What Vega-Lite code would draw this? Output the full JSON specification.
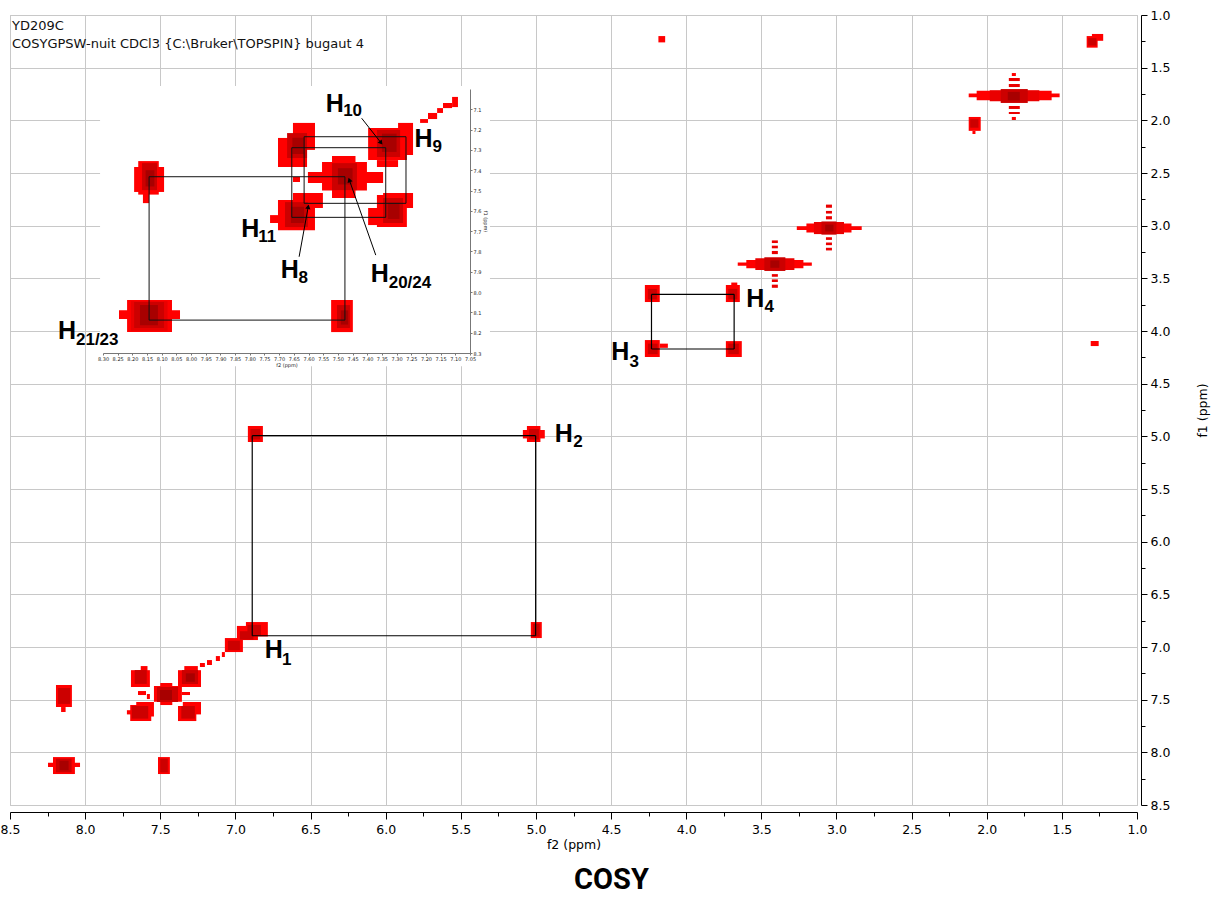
{
  "$schema": "https://vega.github.io/schema/vega-lite/v6.json",
  "width": 1127,
  "height": 790,
  "autosize": {"type": "none"},
  "padding": {"left": 10, "top": 15, "right": 78, "bottom": 92},
  "background": "white",
  "config": {
    "view": {"stroke": "#c0c0c0", "strokeWidth": 1},
    "text": {"font": "Liberation Sans"}
  },
  "title": {"text": "COSY", "orient": "bottom", "anchor": "middle", "frame": "group", "font": "Roboto", "fontSize": 29, "fontWeight": "bold", "color": "#000", "offset": 15, "dx": 38},
  "datasets": {
    "main_peaks": [
      {"f2":1.335,"f2b":1.262,"f1":1.2,"f1b":1.31,"lvl":1},
      {"f2":1.3,"f2b":1.225,"f1":1.18,"f1b":1.245,"lvl":1},
      {"f2":1.325,"f2b":1.27,"f1":1.22,"f1b":1.29,"lvl":3},
      {"f2":4.185,"f2b":4.14,"f1":1.2,"f1b":1.26,"lvl":1},
      {"f2":2.12,"f2b":1.515,"f1":1.745,"f1b":1.78,"lvl":1},
      {"f2":2.067,"f2b":1.568,"f1":1.72,"f1b":1.81,"lvl":1},
      {"f2":1.98,"f2b":1.65,"f1":1.715,"f1b":1.82,"lvl":2},
      {"f2":1.907,"f2b":1.727,"f1":1.703,"f1b":1.835,"lvl":3},
      {"f2":1.86,"f2b":1.78,"f1":1.73,"f1b":1.81,"lvl":4},
      {"f2":1.853,"f2b":1.78,"f1":1.598,"f1b":1.627,"lvl":2},
      {"f2":1.853,"f2b":1.78,"f1":1.655,"f1b":1.684,"lvl":2},
      {"f2":1.853,"f2b":1.78,"f1":1.864,"f1b":1.892,"lvl":2},
      {"f2":1.853,"f2b":1.78,"f1":1.921,"f1b":1.94,"lvl":2},
      {"f2":1.833,"f2b":1.806,"f1":1.551,"f1b":1.579,"lvl":1},
      {"f2":1.833,"f2b":1.806,"f1":1.968,"f1b":1.997,"lvl":1},
      {"f2":2.12,"f2b":2.04,"f1":1.968,"f1b":2.1,"lvl":1},
      {"f2":2.095,"f2b":2.075,"f1":2.1,"f1b":2.13,"lvl":1},
      {"f2":2.11,"f2b":2.055,"f1":1.99,"f1b":2.07,"lvl":3},
      {"f2":1.308,"f2b":1.255,"f1":4.095,"f1b":4.143,"lvl":1},
      {"f2":3.264,"f2b":2.832,"f1":3.005,"f1b":3.04,"lvl":1},
      {"f2":3.2,"f2b":2.9,"f1":2.98,"f1b":3.065,"lvl":1},
      {"f2":3.15,"f2b":2.95,"f1":2.965,"f1b":3.08,"lvl":2},
      {"f2":3.1,"f2b":3.0,"f1":2.96,"f1b":3.085,"lvl":3},
      {"f2":3.075,"f2b":3.02,"f1":2.99,"f1b":3.055,"lvl":4},
      {"f2":3.07,"f2b":3.03,"f1":2.8,"f1b":2.83,"lvl":2},
      {"f2":3.07,"f2b":3.03,"f1":2.86,"f1b":2.885,"lvl":2},
      {"f2":3.07,"f2b":3.03,"f1":2.91,"f1b":2.94,"lvl":2},
      {"f2":3.07,"f2b":3.03,"f1":3.11,"f1b":3.135,"lvl":2},
      {"f2":3.07,"f2b":3.03,"f1":3.16,"f1b":3.185,"lvl":2},
      {"f2":3.07,"f2b":3.03,"f1":3.21,"f1b":3.235,"lvl":2},
      {"f2":3.657,"f2b":3.164,"f1":3.35,"f1b":3.38,"lvl":1},
      {"f2":3.6,"f2b":3.22,"f1":3.325,"f1b":3.405,"lvl":1},
      {"f2":3.54,"f2b":3.28,"f1":3.31,"f1b":3.42,"lvl":2},
      {"f2":3.48,"f2b":3.34,"f1":3.3,"f1b":3.43,"lvl":3},
      {"f2":3.44,"f2b":3.38,"f1":3.33,"f1b":3.4,"lvl":4},
      {"f2":3.43,"f2b":3.39,"f1":3.14,"f1b":3.165,"lvl":2},
      {"f2":3.43,"f2b":3.39,"f1":3.19,"f1b":3.215,"lvl":2},
      {"f2":3.43,"f2b":3.39,"f1":3.24,"f1b":3.27,"lvl":2},
      {"f2":3.43,"f2b":3.39,"f1":3.46,"f1b":3.485,"lvl":2},
      {"f2":3.43,"f2b":3.39,"f1":3.51,"f1b":3.535,"lvl":2},
      {"f2":3.43,"f2b":3.39,"f1":3.56,"f1b":3.59,"lvl":2},
      {"f2":4.275,"f2b":4.176,"f1":3.563,"f1b":3.725,"lvl":1},
      {"f2":4.255,"f2b":4.195,"f1":3.6,"f1b":3.7,"lvl":3},
      {"f2":3.736,"f2b":3.643,"f1":3.563,"f1b":3.725,"lvl":1},
      {"f2":3.7,"f2b":3.66,"f1":3.54,"f1b":3.57,"lvl":1},
      {"f2":3.72,"f2b":3.66,"f1":3.6,"f1b":3.7,"lvl":3},
      {"f2":4.275,"f2b":4.176,"f1":4.086,"f1b":4.247,"lvl":1},
      {"f2":4.176,"f2b":4.122,"f1":4.12,"f1b":4.16,"lvl":1},
      {"f2":4.255,"f2b":4.19,"f1":4.12,"f1b":4.22,"lvl":3},
      {"f2":3.736,"f2b":3.63,"f1":4.096,"f1b":4.247,"lvl":1},
      {"f2":3.72,"f2b":3.65,"f1":4.12,"f1b":4.22,"lvl":3},
      {"f2":6.917,"f2b":6.817,"f1":4.902,"f1b":5.054,"lvl":1},
      {"f2":6.9,"f2b":6.835,"f1":4.93,"f1b":5.03,"lvl":3},
      {"f2":5.087,"f2b":4.941,"f1":4.94,"f1b":5.02,"lvl":1},
      {"f2":5.06,"f2b":4.97,"f1":4.902,"f1b":5.054,"lvl":1},
      {"f2":5.045,"f2b":4.98,"f1":4.93,"f1b":5.03,"lvl":3},
      {"f2":5.034,"f2b":4.961,"f1":6.763,"f1b":6.915,"lvl":1},
      {"f2":5.02,"f2b":4.975,"f1":6.78,"f1b":6.9,"lvl":3},
      {"f2":6.93,"f2b":6.784,"f1":6.763,"f1b":6.9,"lvl":1},
      {"f2":6.99,"f2b":6.85,"f1":6.8,"f1b":6.934,"lvl":1},
      {"f2":7.07,"f2b":6.95,"f1":6.915,"f1b":7.048,"lvl":1},
      {"f2":6.92,"f2b":6.83,"f1":6.79,"f1b":6.89,"lvl":3},
      {"f2":6.97,"f2b":6.88,"f1":6.85,"f1b":6.93,"lvl":3},
      {"f2":7.05,"f2b":6.97,"f1":6.94,"f1b":7.03,"lvl":3},
      {"f2":7.09,"f2b":7.07,"f1":7.048,"f1b":7.095,"lvl":1},
      {"f2":7.13,"f2b":7.103,"f1":7.086,"f1b":7.133,"lvl":1},
      {"f2":7.189,"f2b":7.156,"f1":7.124,"f1b":7.171,"lvl":1},
      {"f2":7.236,"f2b":7.203,"f1":7.152,"f1b":7.19,"lvl":1},
      {"f2":7.382,"f2b":7.229,"f1":7.22,"f1b":7.38,"lvl":1},
      {"f2":7.34,"f2b":7.25,"f1":7.181,"f1b":7.23,"lvl":1},
      {"f2":7.356,"f2b":7.249,"f1":7.219,"f1b":7.351,"lvl":3},
      {"f2":7.33,"f2b":7.27,"f1":7.25,"f1b":7.33,"lvl":4},
      {"f2":7.695,"f2b":7.569,"f1":7.22,"f1b":7.38,"lvl":1},
      {"f2":7.63,"f2b":7.585,"f1":7.181,"f1b":7.23,"lvl":1},
      {"f2":7.67,"f2b":7.59,"f1":7.219,"f1b":7.35,"lvl":3},
      {"f2":7.542,"f2b":7.356,"f1":7.37,"f1b":7.52,"lvl":1},
      {"f2":7.5,"f2b":7.42,"f1":7.342,"f1b":7.551,"lvl":1},
      {"f2":7.522,"f2b":7.382,"f1":7.38,"f1b":7.522,"lvl":3},
      {"f2":7.502,"f2b":7.422,"f1":7.408,"f1b":7.503,"lvl":4},
      {"f2":7.648,"f2b":7.595,"f1":7.418,"f1b":7.456,"lvl":1},
      {"f2":7.589,"f2b":7.569,"f1":7.446,"f1b":7.494,"lvl":1},
      {"f2":7.356,"f2b":7.302,"f1":7.427,"f1b":7.456,"lvl":1},
      {"f2":7.7,"f2b":7.56,"f1":7.55,"f1b":7.703,"lvl":1},
      {"f2":7.66,"f2b":7.542,"f1":7.522,"f1b":7.66,"lvl":1},
      {"f2":7.722,"f2b":7.69,"f1":7.6,"f1b":7.64,"lvl":1},
      {"f2":7.69,"f2b":7.58,"f1":7.56,"f1b":7.68,"lvl":3},
      {"f2":7.382,"f2b":7.26,"f1":7.56,"f1b":7.703,"lvl":1},
      {"f2":7.35,"f2b":7.229,"f1":7.522,"f1b":7.64,"lvl":1},
      {"f2":7.36,"f2b":7.27,"f1":7.56,"f1b":7.68,"lvl":3},
      {"f2":8.194,"f2b":8.088,"f1":7.361,"f1b":7.57,"lvl":1},
      {"f2":8.16,"f2b":8.13,"f1":7.57,"f1b":7.617,"lvl":1},
      {"f2":8.18,"f2b":8.1,"f1":7.39,"f1b":7.54,"lvl":3},
      {"f2":8.247,"f2b":8.034,"f1":8.1,"f1b":8.14,"lvl":1},
      {"f2":8.214,"f2b":8.068,"f1":8.045,"f1b":8.206,"lvl":1},
      {"f2":8.194,"f2b":8.09,"f1":8.06,"f1b":8.19,"lvl":3},
      {"f2":8.17,"f2b":8.11,"f1":8.08,"f1b":8.17,"lvl":4},
      {"f2":7.515,"f2b":7.436,"f1":8.045,"f1b":8.206,"lvl":1},
      {"f2":7.5,"f2b":7.45,"f1":8.06,"f1b":8.19,"lvl":3}
    ],
    "main_lines": [
      {"f2":6.888,"f1":4.994,"f2b":5.002,"f1b":4.994},
      {"f2":5.002,"f1":4.994,"f2b":5.002,"f1b":6.893},
      {"f2":5.002,"f1":6.893,"f2b":6.888,"f1b":6.893},
      {"f2":6.888,"f1":6.893,"f2b":6.888,"f1b":4.994},
      {"f2":4.231,"f1":3.652,"f2b":3.681,"f1b":3.652},
      {"f2":3.681,"f1":3.652,"f2b":3.681,"f1b":4.171},
      {"f2":3.681,"f1":4.171,"f2b":4.231,"f1b":4.171},
      {"f2":4.231,"f1":4.171,"f2b":4.231,"f1b":3.652}
    ],
    "main_labels": [
      {"f2":4.874,"f1":5.051,"txt":"H","kind":"H"},
      {"f2":4.752,"f1":5.101,"txt":"2","kind":"sub"},
      {"f2":6.805,"f1":7.105,"txt":"H","kind":"H"},
      {"f2":6.69,"f1":7.171,"txt":"1","kind":"sub"},
      {"f2":3.601,"f1":3.769,"txt":"H","kind":"H"},
      {"f2":3.479,"f1":3.817,"txt":"4","kind":"sub"},
      {"f2":4.499,"f1":4.275,"txt":"H","kind":"H"},
      {"f2":4.377,"f1":4.339,"txt":"3","kind":"sub"}
    ],
    "header": [
      {"f2":8.487,"f1":1.142,"txt":"YD209C"},
      {"f2":8.487,"f1":1.313,"txt":"COSYGPSW-nuit CDCl3 {C:\\Bruker\\TOPSPIN} bugaut 4"}
    ],
    "inset_bg": [
      {"f2":8.31,"f2b":6.982,"f1":6.985,"f1b":8.365}
    ],
    "inset_gridx": [
      {"f2":8.3},{"f2":8.25},{"f2":8.2},{"f2":8.15},{"f2":8.1},{"f2":8.05},{"f2":8.0},{"f2":7.95},{"f2":7.9},{"f2":7.85},{"f2":7.8},{"f2":7.75},{"f2":7.7},{"f2":7.65},{"f2":7.6},{"f2":7.55},{"f2":7.5},{"f2":7.45},{"f2":7.4},{"f2":7.35},{"f2":7.3},{"f2":7.25},{"f2":7.2},{"f2":7.15},{"f2":7.1},{"f2":7.05}
    ],
    "inset_gridy": [
      {"f1":7.0},{"f1":7.1},{"f1":7.2},{"f1":7.3},{"f1":7.4},{"f1":7.5},{"f1":7.6},{"f1":7.7},{"f1":7.8},{"f1":7.9},{"f1":8.0},{"f1":8.1},{"f1":8.2},{"f1":8.3}
    ],
    "inset_peaks": [
      {"f2":8.2455,"f2b":8.0377,"f1":8.089,"f1b":8.133,"lvl":1},
      {"f2":8.218,"f2b":8.065,"f1":8.039,"f1b":8.197,"lvl":1},
      {"f2":8.205,"f2b":8.08,"f1":8.045,"f1b":8.19,"lvl":2},
      {"f2":8.194,"f2b":8.092,"f1":8.049,"f1b":8.177,"lvl":3},
      {"f2":8.174,"f2b":8.113,"f1":8.064,"f1b":8.163,"lvl":4},
      {"f2":7.523,"f2b":7.449,"f1":8.039,"f1b":8.197,"lvl":1},
      {"f2":7.503,"f2b":7.459,"f1":8.064,"f1b":8.177,"lvl":3},
      {"f2":7.49,"f2b":7.465,"f1":8.09,"f1b":8.16,"lvl":4},
      {"f2":8.194,"f2b":8.092,"f1":7.384,"f1b":7.507,"lvl":1},
      {"f2":8.18,"f2b":8.11,"f1":7.355,"f1b":7.52,"lvl":1},
      {"f2":8.164,"f2b":8.143,"f1":7.512,"f1b":7.562,"lvl":1},
      {"f2":8.167,"f2b":8.116,"f1":7.365,"f1b":7.498,"lvl":3},
      {"f2":8.155,"f2b":8.125,"f1":7.4,"f1b":7.48,"lvl":4},
      {"f2":7.602,"f2b":7.346,"f1":7.409,"f1b":7.463,"lvl":1},
      {"f2":7.554,"f2b":7.401,"f1":7.36,"f1b":7.5,"lvl":1},
      {"f2":7.52,"f2b":7.44,"f1":7.33,"f1b":7.537,"lvl":1},
      {"f2":7.653,"f2b":7.629,"f1":7.433,"f1b":7.458,"lvl":1},
      {"f2":7.52,"f2b":7.435,"f1":7.365,"f1b":7.498,"lvl":3},
      {"f2":7.5,"f2b":7.45,"f1":7.39,"f1b":7.47,"lvl":4},
      {"f2":7.704,"f2b":7.578,"f1":7.547,"f1b":7.695,"lvl":1},
      {"f2":7.653,"f2b":7.551,"f1":7.512,"f1b":7.586,"lvl":1},
      {"f2":7.731,"f2b":7.704,"f1":7.621,"f1b":7.66,"lvl":1},
      {"f2":7.68,"f2b":7.602,"f1":7.557,"f1b":7.68,"lvl":3},
      {"f2":7.66,"f2b":7.615,"f1":7.58,"f1b":7.66,"lvl":4},
      {"f2":7.653,"f2b":7.578,"f1":7.167,"f1b":7.3,"lvl":1},
      {"f2":7.704,"f2b":7.605,"f1":7.241,"f1b":7.384,"lvl":1},
      {"f2":7.673,"f2b":7.605,"f1":7.217,"f1b":7.34,"lvl":3},
      {"f2":7.655,"f2b":7.615,"f1":7.24,"f1b":7.32,"lvl":4},
      {"f2":7.397,"f2b":7.265,"f1":7.192,"f1b":7.35,"lvl":1},
      {"f2":7.295,"f2b":7.244,"f1":7.167,"f1b":7.325,"lvl":1},
      {"f2":7.367,"f2b":7.295,"f1":7.35,"f1b":7.384,"lvl":1},
      {"f2":7.367,"f2b":7.288,"f1":7.202,"f1b":7.335,"lvl":3},
      {"f2":7.35,"f2b":7.3,"f1":7.22,"f1b":7.31,"lvl":4},
      {"f2":7.367,"f2b":7.265,"f1":7.522,"f1b":7.68,"lvl":1},
      {"f2":7.346,"f2b":7.244,"f1":7.512,"f1b":7.586,"lvl":1},
      {"f2":7.397,"f2b":7.346,"f1":7.586,"f1b":7.67,"lvl":1},
      {"f2":7.346,"f2b":7.278,"f1":7.537,"f1b":7.66,"lvl":3},
      {"f2":7.33,"f2b":7.29,"f1":7.56,"f1b":7.64,"lvl":4},
      {"f2":7.22,"f2b":7.193,"f1":7.148,"f1b":7.167,"lvl":1},
      {"f2":7.193,"f2b":7.162,"f1":7.118,"f1b":7.148,"lvl":1},
      {"f2":7.162,"f2b":7.142,"f1":7.094,"f1b":7.118,"lvl":1},
      {"f2":7.142,"f2b":7.111,"f1":7.069,"f1b":7.094,"lvl":1},
      {"f2":7.111,"f2b":7.091,"f1":7.039,"f1b":7.089,"lvl":1}
    ],
    "inset_lines": [
      {"f2":8.143,"f1":7.432,"f2b":7.476,"f1b":7.432},
      {"f2":7.476,"f1":7.432,"f2b":7.476,"f1b":8.138},
      {"f2":7.476,"f1":8.138,"f2b":8.143,"f1b":8.138},
      {"f2":8.143,"f1":8.138,"f2b":8.143,"f1b":7.432},
      {"f2":7.657,"f1":7.289,"f2b":7.337,"f1b":7.289},
      {"f2":7.337,"f1":7.289,"f2b":7.337,"f1b":7.632},
      {"f2":7.337,"f1":7.632,"f2b":7.657,"f1b":7.632},
      {"f2":7.657,"f1":7.632,"f2b":7.657,"f1b":7.289},
      {"f2":7.615,"f1":7.235,"f2b":7.268,"f1b":7.235},
      {"f2":7.268,"f1":7.235,"f2b":7.268,"f1b":7.563},
      {"f2":7.268,"f1":7.563,"f2b":7.615,"f1b":7.563},
      {"f2":7.615,"f1":7.563,"f2b":7.615,"f1b":7.235}
    ],
    "inset_arrows": [
      {"label":"H10","f2":7.419,"f1":7.144,"f2b":7.353,"f1b":7.265},
      {"label":"H8","f2":7.632,"f1":7.826,"f2b":7.601,"f1b":7.58},
      {"label":"H20/24","f2":7.371,"f1":7.818,"f2b":7.461,"f1b":7.448}
    ],
    "inset_labels": [
      {"f2":7.541,"f1":7.112,"txt":"H","kind":"H"},
      {"f2":7.482,"f1":7.133,"txt":"10","kind":"sub"},
      {"f2":7.239,"f1":7.286,"txt":"H","kind":"H"},
      {"f2":7.178,"f1":7.31,"txt":"9","kind":"sub"},
      {"f2":7.829,"f1":7.728,"txt":"H","kind":"H"},
      {"f2":7.771,"f1":7.752,"txt":"11","kind":"sub"},
      {"f2":7.695,"f1":7.933,"txt":"H","kind":"H"},
      {"f2":7.634,"f1":7.957,"txt":"8","kind":"sub"},
      {"f2":7.388,"f1":7.949,"txt":"H","kind":"H"},
      {"f2":7.327,"f1":7.982,"txt":"20/24","kind":"sub"},
      {"f2":8.453,"f1":8.232,"txt":"H","kind":"H"},
      {"f2":8.392,"f1":8.261,"txt":"21/23","kind":"sub"}
    ]
  },
  "layer": [
    {
      "encoding": {
        "x": {
          "field": "f2", "type": "quantitative",
          "scale": {"domain": [8.5, 1.0], "zero": false, "nice": false},
          "axis": {
            "orient": "bottom", "offset": 7,
            "values": [8.5,8.25,8,7.75,7.5,7.25,7,6.75,6.5,6.25,6,5.75,5.5,5.25,5,4.75,4.5,4.25,4,3.75,3.5,3.25,3,2.75,2.5,2.25,2,1.75,1.5,1.25,1],
            "labelExpr": "datum.value % 0.5 == 0 ? format(datum.value, '.1f') : ''",
            "tickSize": {"condition": {"test": "datum.value % 0.5 == 0", "value": 7}, "value": 4},
            "grid": true,
            "gridOpacity": {"condition": {"test": "datum.value % 0.5 == 0", "value": 1}, "value": 0},
            "gridColor": "#c8c8c8", "gridWidth": 1,
            "domainColor": "#000", "tickColor": "#000", "labelColor": "#000",
            "labelFont": "DejaVu Sans", "labelFontSize": 12.5, "labelPadding": 4,
            "labelOverlap": false, "labelFlush": false, "labelBound": false,
            "title": "f2 (ppm)", "titleFont": "DejaVu Sans", "titleFontSize": 12.5, "titleFontWeight": "normal", "titleColor": "#000", "titlePadding": 3
          }
        },
        "y": {
          "field": "f1", "type": "quantitative",
          "scale": {"domain": [8.5, 1.0], "zero": false, "nice": false},
          "axis": {
            "orient": "right", "offset": 4,
            "values": [8.5,8.25,8,7.75,7.5,7.25,7,6.75,6.5,6.25,6,5.75,5.5,5.25,5,4.75,4.5,4.25,4,3.75,3.5,3.25,3,2.75,2.5,2.25,2,1.75,1.5,1.25,1],
            "labelExpr": "datum.value % 0.5 == 0 ? format(datum.value, '.1f') : ''",
            "tickSize": {"condition": {"test": "datum.value % 0.5 == 0", "value": 6}, "value": 4},
            "grid": true,
            "gridOpacity": {"condition": {"test": "datum.value % 0.5 == 0", "value": 1}, "value": 0},
            "gridColor": "#c8c8c8", "gridWidth": 1,
            "domainColor": "#000", "tickColor": "#000", "labelColor": "#000",
            "labelFont": "DejaVu Sans", "labelFontSize": 12.5, "labelPadding": 3,
            "labelOverlap": false, "labelFlush": false, "labelBound": false,
            "title": "f1 (ppm)", "titleFont": "DejaVu Sans", "titleFontSize": 12.5, "titleFontWeight": "normal", "titleColor": "#000", "titleAngle": 270, "titlePadding": 40
          }
        }
      },
      "layer": [
        {
          "data": {"name": "main_peaks"},
          "mark": {"type": "rect", "strokeWidth": 0},
          "encoding": {
            "x2": {"field": "f2b"},
            "y2": {"field": "f1b"},
            "color": {"field": "lvl", "type": "ordinal", "scale": {"domain": [1, 2, 3, 4], "range": ["#ff0000", "#ea0000", "#cc0000", "#a80000"]}, "legend": null},
            "order": {"field": "lvl", "type": "quantitative"}
          }
        },
        {
          "data": {"name": "main_lines"},
          "mark": {"type": "rule", "color": "#000", "strokeWidth": 1.2},
          "encoding": {"x2": {"field": "f2b"}, "y2": {"field": "f1b"}}
        },
        {
          "data": {"name": "main_labels"},
          "transform": [{"filter": "datum.kind == 'H'"}],
          "mark": {"type": "text", "align": "left", "baseline": "alphabetic", "font": "Liberation Sans", "fontWeight": "bold", "fontSize": 25, "color": "#000"},
          "encoding": {"text": {"field": "txt"}}
        },
        {
          "data": {"name": "main_labels"},
          "transform": [{"filter": "datum.kind == 'sub'"}],
          "mark": {"type": "text", "align": "left", "baseline": "alphabetic", "font": "Liberation Sans", "fontWeight": "bold", "fontSize": 17, "color": "#000"},
          "encoding": {"text": {"field": "txt"}}
        },
        {
          "data": {"name": "header"},
          "mark": {"type": "text", "align": "left", "baseline": "alphabetic", "font": "DejaVu Sans", "fontSize": 13, "color": "#111"},
          "encoding": {"text": {"field": "txt"}}
        }
      ]
    },
    {
      "encoding": {
        "x": {
          "field": "f2", "type": "quantitative",
          "scale": {"domain": [8.3, 7.05], "range": [93, 460], "zero": false, "nice": false},
          "axis": {
            "orient": "bottom", "offset": -452, "zindex": 1,
            "values": [8.3,8.25,8.2,8.15,8.1,8.05,8,7.95,7.9,7.85,7.8,7.75,7.7,7.65,7.6,7.55,7.5,7.45,7.4,7.35,7.3,7.25,7.2,7.15,7.1,7.05],
            "format": ".2f", "grid": false,
            "tickSize": 2, "domainColor": "#777", "tickColor": "#777", "labelColor": "#222",
            "labelFont": "DejaVu Sans", "labelFontSize": 5, "labelPadding": 1,
            "labelOverlap": false, "labelFlush": false, "labelBound": false,
            "title": "f2 (ppm)", "titleFont": "DejaVu Sans", "titleFontSize": 5, "titleFontWeight": "normal", "titleColor": "#222", "titlePadding": 1
          }
        },
        "y": {
          "field": "f1", "type": "quantitative",
          "scale": {"domain": [7.0, 8.3], "range": [74, 338], "zero": false, "nice": false},
          "axis": {
            "orient": "right", "offset": -667, "zindex": 1,
            "values": [7.1,7.2,7.3,7.4,7.5,7.6,7.7,7.8,7.9,8.0,8.1,8.2,8.3],
            "format": ".1f", "grid": false,
            "tickSize": 2, "domainColor": "#777", "tickColor": "#777", "labelColor": "#222",
            "labelFont": "DejaVu Sans", "labelFontSize": 5, "labelPadding": 1,
            "labelOverlap": false, "labelFlush": false, "labelBound": false,
            "title": "f1 (ppm)", "titleFont": "DejaVu Sans", "titleFontSize": 5, "titleFontWeight": "normal", "titleColor": "#222", "titlePadding": 2
          }
        }
      },
      "layer": [
        {
          "data": {"name": "inset_bg"},
          "mark": {"type": "rect", "color": "#ffffff", "opacity": 1},
          "encoding": {"x2": {"field": "f2b"}, "y2": {"field": "f1b"}}
        },
        {
          "data": {"name": "inset_gridx"},
          "mark": {"type": "rule", "color": "#d2d2d2", "strokeWidth": 1},
          "encoding": {"y": {"datum": 7.0}, "y2": {"datum": 8.3}}
        },
        {
          "data": {"name": "inset_gridy"},
          "mark": {"type": "rule", "color": "#d2d2d2", "strokeWidth": 1},
          "encoding": {"x": {"datum": 8.3}, "x2": {"datum": 7.05}}
        },
        {
          "data": {"name": "inset_peaks"},
          "mark": {"type": "rect", "strokeWidth": 0},
          "encoding": {
            "x2": {"field": "f2b"},
            "y2": {"field": "f1b"},
            "color": {"field": "lvl", "type": "ordinal", "scale": {"domain": [1, 2, 3, 4], "range": ["#ff0000", "#ea0000", "#cc0000", "#a80000"]}, "legend": null},
            "order": {"field": "lvl", "type": "quantitative"}
          }
        },
        {
          "data": {"name": "inset_lines"},
          "mark": {"type": "rule", "color": "#111", "strokeWidth": 1},
          "encoding": {"x2": {"field": "f2b"}, "y2": {"field": "f1b"}}
        },
        {
          "data": {"name": "inset_arrows"},
          "mark": {"type": "rule", "color": "#000", "strokeWidth": 1},
          "encoding": {"x2": {"field": "f2b"}, "y2": {"field": "f1b"}}
        },
        {
          "data": {"name": "inset_arrows"},
          "transform": [{"filter": "datum.label == 'H10'"}],
          "mark": {"type": "point", "shape": "triangle-up", "filled": true, "color": "#000", "opacity": 1, "size": 28, "angle": 141.7},
          "encoding": {"x": {"field": "f2b"}, "y": {"field": "f1b"}}
        },
        {
          "data": {"name": "inset_arrows"},
          "transform": [{"filter": "datum.label == 'H8'"}],
          "mark": {"type": "point", "shape": "triangle-up", "filled": true, "color": "#000", "opacity": 1, "size": 28, "angle": 10.5},
          "encoding": {"x": {"field": "f2b"}, "y": {"field": "f1b"}}
        },
        {
          "data": {"name": "inset_arrows"},
          "transform": [{"filter": "datum.label == 'H20/24'"}],
          "mark": {"type": "point", "shape": "triangle-up", "filled": true, "color": "#000", "opacity": 1, "size": 28, "angle": 340.6},
          "encoding": {"x": {"field": "f2b"}, "y": {"field": "f1b"}}
        },
        {
          "data": {"name": "inset_labels"},
          "transform": [{"filter": "datum.kind == 'H'"}],
          "mark": {"type": "text", "align": "left", "baseline": "alphabetic", "font": "Liberation Sans", "fontWeight": "bold", "fontSize": 25, "color": "#000"},
          "encoding": {"text": {"field": "txt"}}
        },
        {
          "data": {"name": "inset_labels"},
          "transform": [{"filter": "datum.kind == 'sub'"}],
          "mark": {"type": "text", "align": "left", "baseline": "alphabetic", "font": "Liberation Sans", "fontWeight": "bold", "fontSize": 17, "color": "#000"},
          "encoding": {"text": {"field": "txt"}}
        }
      ]
    }
  ],
  "resolve": {"scale": {"x": "independent", "y": "independent"}, "axis": {"x": "independent", "y": "independent"}}
}
